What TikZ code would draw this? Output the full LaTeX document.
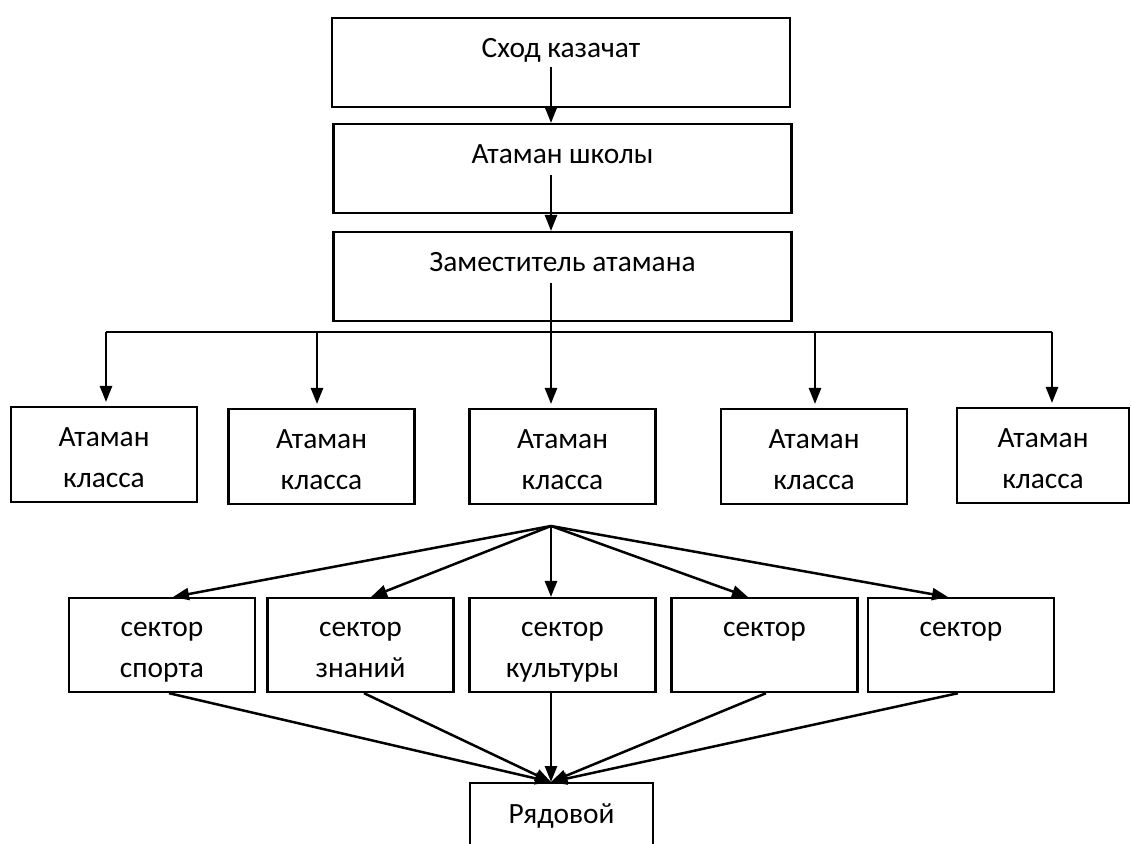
\documentclass[tikz,border=0pt]{standalone}
\usepackage{fontspec}
\setmainfont{Carlito}
\usetikzlibrary{arrows.meta}

\begin{document}
\begin{tikzpicture}
[x=0.5pt,y=-0.5pt,
  boxDecorate/.style={draw,line width=1.1pt,anchor=north,align=center,
    inner xsep=0pt,inner ysep=0pt,text height=19.5pt,
    font=\fontsize{14.7}{20.5}\selectfont},
  topBox/.style={boxDecorate,minimum width=229pt,text depth=25pt},
  classBox/.style={boxDecorate,minimum width=93pt,text height=40pt,text depth=7.5pt},
  sectorBox/.style={boxDecorate,minimum width=93pt,text height=39.5pt,text depth=7.5pt},
  lineDecorate/.style={line width=1.25pt},
  arrowDecorate/.style={lineDecorate,-{Triangle[width=6pt,length=8pt]}}]
\useasboundingbox (0,0) rectangle (1131,844);
\clip (0,0) rectangle (1131,844);
%% top of the scheme
\node (shod) at (561,17) [topBox] {Сход казачат};
\node (ataman) at (562.5,123) [topBox] {Атаман школы};
\node (zam) at (562.5,231) [topBox] {Заместитель атамана};
%% class atamans
\foreach \nodename/\x/\y in {k1/104/406, k2/321.5/408, k3/562.5/408, k4/814/408}
{
  \node (\nodename) at (\x,\y) [classBox] {Атаман\\класса};
}
\node (k5) at (1043,407) [classBox,minimum width=86pt] {Атаман\\класса};
%% sectors
\foreach \nodename/\x/\txt in {s1/162/{сектор\\спорта}, s2/360.5/{сектор\\знаний},
  s3/562.5/{сектор\\культуры}}
{
  \node (\nodename) at (\x,597) [sectorBox] {\txt};
}
\node (s4) at (764.5,597) [sectorBox,text height=19pt,text depth=28pt] {сектор};
\node (s5) at (961,597) [sectorBox,text height=19pt,text depth=28pt] {сектор};
\node (ryad) at (561.5,782) [boxDecorate,minimum width=91.5pt,text height=20pt,text depth=40pt] {Рядовой};
%% middle line
\coordinate (c1) at (551,67);
\coordinate (c2) at (551,175);
\coordinate (c3) at (551,283);
\coordinate (busL) at (106,332);
\coordinate (busR) at (1052,332);
\draw[arrowDecorate] (c1) -- (c1 |- ataman.north);
\draw[arrowDecorate] (c2) -- (c2 |- zam.north);
\draw[lineDecorate] (c3) -- (c3 |- busL);
\draw[lineDecorate] (busL) -- (busR);
\foreach \nodename/\x in {k1/106, k2/317, k3/551, k4/815, k5/1052}
{
  \coordinate (b\nodename) at (\x,332);
  \draw[arrowDecorate,shorten >=2pt] (b\nodename) -- (b\nodename |- \nodename.north);
}
%% fan to the sectors
\coordinate (fan) at (551,526);
\foreach \nodename/\x in {s1/173, s2/371, s3/551, s4/748, s5/948}
{
  \coordinate (t\nodename) at (\x,0);
  \draw[arrowDecorate] (fan) -- (\nodename.north -| t\nodename);
}
%% sectors to ryad
\foreach \nodename/\x in {s1/169, s2/364, s3/551, s4/766, s5/958}
{
  \coordinate (u\nodename) at (\x,0);
  \draw[arrowDecorate] (\nodename.south -| u\nodename) -- (ryad.north -| fan);
}
\end{tikzpicture}
\end{document}
